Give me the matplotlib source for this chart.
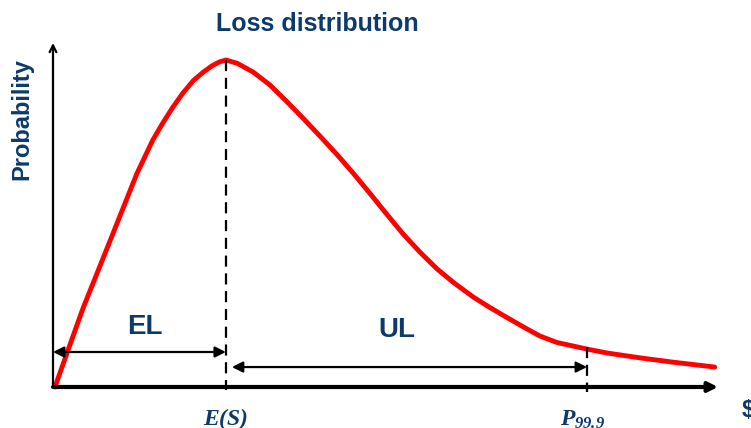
import matplotlib
matplotlib.use("Agg")
import matplotlib.pyplot as plt

# loss distribution curve (x: loss units, y: relative probability)
loss = [0.03, 0.23, 0.45, 0.86, 1.26, 1.50, 1.65, 1.80, 1.95, 2.11, 2.26, 2.39, 2.50,
        2.60, 2.77, 3.01, 3.26, 3.52, 3.76, 4.02, 4.27, 4.51, 4.77, 5.02, 5.26, 5.52,
        5.77, 6.02, 6.32, 6.57, 6.83, 7.07, 7.32, 7.58, 8.03, 8.33, 8.83, 9.32, 9.95]
prob = [0.0, 0.115, 0.24, 0.448, 0.652, 0.755, 0.807, 0.855, 0.898, 0.937, 0.963, 0.982, 0.994,
        1.0, 0.990, 0.963, 0.924, 0.872, 0.822, 0.766, 0.711, 0.655, 0.591, 0.528, 0.469, 0.412,
        0.362, 0.320, 0.275, 0.243, 0.212, 0.184, 0.156, 0.136, 0.116, 0.104, 0.089, 0.076, 0.061]

expected_loss = 2.60   # E(S)
p999 = 8.03            # P99.9
p999_prob = 0.122
axis_end = 10.0
yaxis_top = 1.052

navy = "#0c3a6c"

plt.rcParams["mathtext.fontset"] = "custom"
plt.rcParams["mathtext.rm"] = "Liberation Serif:italic:bold"
plt.rcParams["mathtext.it"] = "Liberation Serif:italic:bold"
plt.rcParams["mathtext.bf"] = "Liberation Serif:italic:bold"

fig = plt.figure(figsize=(7.51, 4.28), dpi=100)
ax = fig.add_axes([0, 0, 1, 1])
ax.set_xlim(-0.797, 10.496)
ax.set_ylim(-0.1254, 1.1835)
ax.axis("off")

# axes with arrows
ax.annotate("", xy=(axis_end, 0), xytext=(0, 0),
            arrowprops=dict(arrowstyle="-|>", lw=3, color="black", mutation_scale=14,
                            shrinkA=0, shrinkB=0))
ax.annotate("", xy=(0, yaxis_top), xytext=(0, 0),
            arrowprops=dict(arrowstyle="->", lw=1.6, color="black", mutation_scale=12,
                            shrinkA=0, shrinkB=0))

# curve
ax.plot(loss, prob, color="red", lw=3.5, solid_capstyle="round", solid_joinstyle="round")

# dashed markers
ax.plot([expected_loss, expected_loss], [max(prob), -0.01], color="black", lw=1.6,
        ls=(0, (5, 3)))
ax.plot([p999, p999], [p999_prob, -0.016], color="black", lw=1.6, ls=(0, (5, 3)))

# EL / UL arrows
ax.annotate("", xy=(expected_loss, 0.107), xytext=(0, 0.107),
            arrowprops=dict(arrowstyle="<|-|>", lw=1.6, color="black", mutation_scale=16,
                            shrinkA=0, shrinkB=0))
ax.annotate("", xy=(p999, 0.061), xytext=(2.69, 0.061),
            arrowprops=dict(arrowstyle="<|-|>", lw=1.6, color="black", mutation_scale=16,
                            shrinkA=0, shrinkB=0))

bold = dict(family="Liberation Sans", weight="bold", color=navy)
ax.text(1.38, 0.183, "EL", fontsize=20, ha="center", va="center", **bold)
ax.text(5.17, 0.174, "UL", fontsize=20, ha="center", va="center", **bold)
ax.text(3.98, 1.11, "Loss distribution", fontsize=18, ha="center", va="center", **bold)
ax.text(-0.466, 0.818, "Probability", fontsize=17, rotation=90, ha="center", va="center", **bold)
ax.text(10.35, -0.073, "$", fontsize=17, ha="left", va="center", **bold)

ax.text(expected_loss, -0.098, r"$E(S)$", fontsize=17, color=navy, ha="center", va="center")
ax.text(7.97, -0.098, r"$P_{99.9}$", fontsize=17, color=navy, ha="center", va="center")

fig.savefig("out.png", dpi=100)
